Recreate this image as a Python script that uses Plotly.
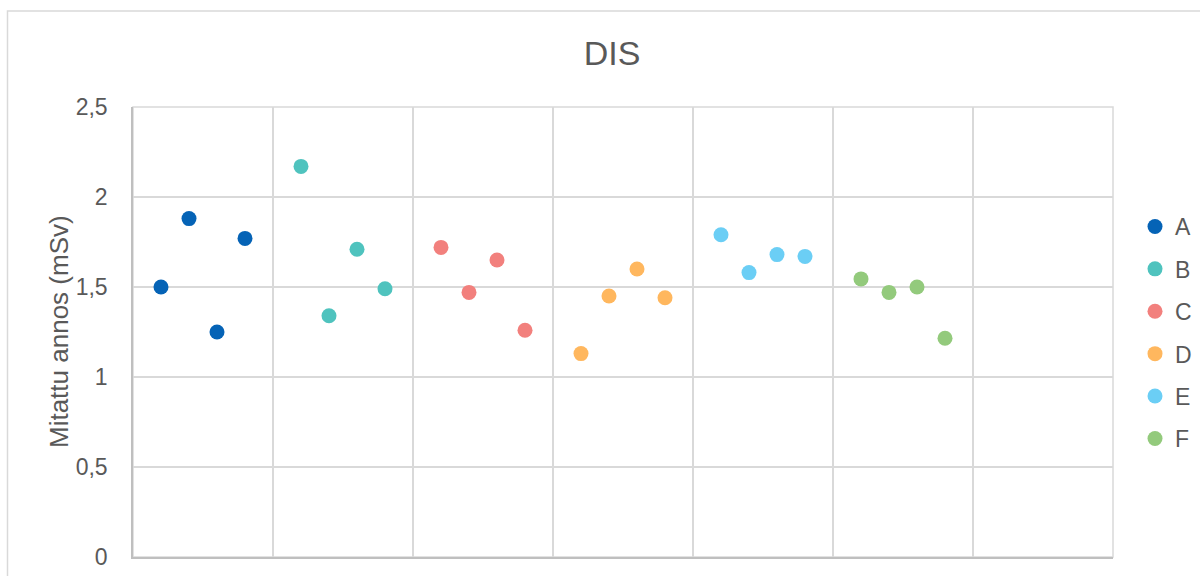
import plotly.graph_objects as go

# Measured dose per sample group (mSv); x is the running sample slot
groups = ["A", "B", "C", "D", "E", "F"]
x_slots = [
    [1, 2, 3, 4],
    [6, 7, 8, 9],
    [11, 12, 13, 14],
    [16, 17, 18, 19],
    [21, 22, 23, 24],
    [26, 27, 28, 29],
]
dose_a = [1.50, 1.88, 1.25, 1.77]
dose_b = [2.17, 1.34, 1.71, 1.49]
dose_c = [1.72, 1.47, 1.65, 1.26]
dose_d = [1.13, 1.45, 1.60, 1.44]
dose_e = [1.79, 1.58, 1.68, 1.67]
dose_f = [1.545, 1.47, 1.50, 1.215]
doses = [dose_a, dose_b, dose_c, dose_d, dose_e, dose_f]
y_tick_vals = [0, 0.5, 1, 1.5, 2, 2.5]

colors = ["#0563B6", "#4FC3BE", "#F2807D", "#FFB75E", "#6BCEF5", "#93CA7C"]
FONT = "Liberation Sans, Arial, sans-serif"
TEXT = "#595959"
GRID = "#D9D9D9"

fig = go.Figure()
for name, xs, ys, c in zip(groups, x_slots, doses, colors):
    fig.add_trace(go.Scatter(
        x=xs, y=ys, mode="markers", name=name, legendgroup=name,
        marker=dict(size=15, color=c, line=dict(width=0)),
    ))

W, H = 1200, 576
L, R, T, B = 133, 87, 107, 19
pw, ph = W - L - R, H - T - B

def px_x(p):
    return (p - L) / pw

def px_y(p):
    return (H - B - p) / ph

fig.update_layout(
    width=W, height=H,
    margin=dict(l=L, r=R, t=T, b=B, pad=0, autoexpand=False),
    paper_bgcolor="white", plot_bgcolor="white",
    separators=", ",
    font=dict(family=FONT, color=TEXT, size=23),
    title=dict(text="DIS", x=0.51, xref="container", xanchor="center",
               y=1 - 53 / H, yref="container", yanchor="middle",
               font=dict(size=34, color=TEXT, family=FONT)),
    xaxis=dict(range=[0, 35], dtick=5, tick0=0, showticklabels=False,
               showgrid=True, gridcolor=GRID, gridwidth=1.5, zeroline=False,
               showline=True, linecolor="#BFBFBF", linewidth=1.5, ticks=""),
    yaxis=dict(range=[0, 2.5], tickvals=y_tick_vals, showgrid=True,
               gridcolor=GRID, gridwidth=1.5, zeroline=False,
               showline=True, linecolor="#BFBFBF", linewidth=1.5, ticks="",
               ticklabelstandoff=19, tickfont=dict(size=23, color=TEXT)),
    showlegend=True,
    legend=dict(x=px_x(1135), xanchor="left", y=px_y(205), yanchor="top",
                font=dict(size=23, color=TEXT, family=FONT),
                tracegroupgap=9.5, itemsizing="trace",
                bgcolor="rgba(0,0,0,0)", borderwidth=0),
    shapes=[
        # plot-area frame
        dict(type="rect", xref="x domain", yref="y domain", x0=0, x1=1,
             y0=0, y1=1, line=dict(color=GRID, width=1.5), layer="below"),
        # chart-area border
        dict(type="rect", xref="paper", yref="paper",
             x0=px_x(7.5), x1=px_x(1217), y0=px_y(600), y1=px_y(11),
             line=dict(color=GRID, width=1.5), layer="below"),
    ],
    annotations=[
        dict(text="Mitattu annos (mSv)", textangle=-90, xref="paper",
             yref="paper", x=px_x(59), y=0.5, xanchor="center",
             yanchor="middle", showarrow=False,
             font=dict(size=26, color=TEXT, family=FONT)),
    ],
)

fig.write_html("out.html")
